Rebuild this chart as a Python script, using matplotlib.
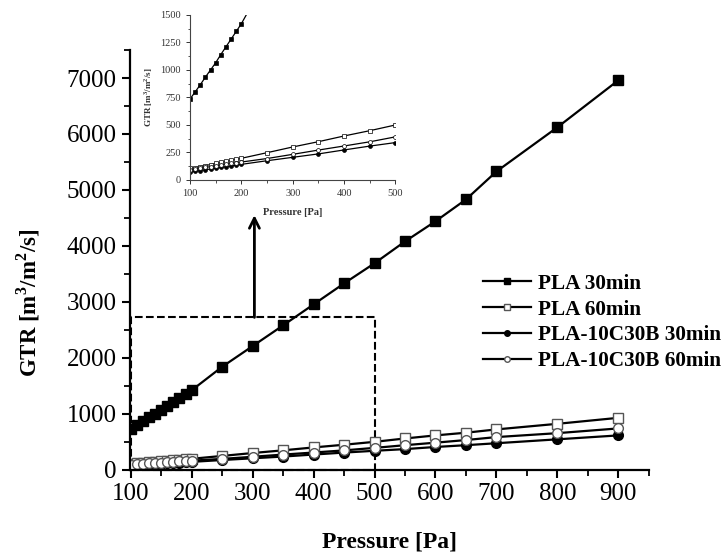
import matplotlib
matplotlib.use('Agg')
import matplotlib.pyplot as plt
from matplotlib.patches import Rectangle

plt.rcParams['font.family'] = ['Liberation Serif', 'DejaVu Serif']
plt.rcParams['mathtext.fontset'] = 'custom'
plt.rcParams['mathtext.rm'] = 'Liberation Serif'
plt.rcParams['mathtext.bf'] = 'Liberation Serif:bold'

# Pressure points [Pa]
pressure = [100, 110, 120, 130, 140, 150, 160, 170, 180, 190, 200,
            250, 300, 350, 400, 450, 500, 550, 600, 650, 700, 800, 900]

# GTR values [m3/m2/s]
pla_30 = [735, 800, 865, 935, 1000, 1065, 1140, 1210, 1280, 1350, 1420,
          1840, 2210, 2580, 2955, 3330, 3690, 4080, 4440, 4830, 5330, 6120, 6960]
pla_60 = [105, 113, 122, 131, 140, 150, 159, 168, 178, 188, 197,
          248, 300, 348, 400, 448, 500, 560, 615, 663, 722, 822, 929]
pla_c30b_30 = [72, 79, 86, 93, 100, 107, 114, 121, 128, 135, 142,
               175, 206, 237, 273, 308, 340, 370, 408, 440, 475, 545, 615]
pla_c30b_60 = [92, 99, 106, 114, 121, 128, 136, 143, 150, 157, 163,
               195, 233, 272, 309, 347, 392, 440, 485, 532, 585, 655, 740]

labels = ['PLA 30min', 'PLA 60min', 'PLA-10C30B 30min', 'PLA-10C30B 60min']
series = [pla_30, pla_60, pla_c30b_30, pla_c30b_60]
markers = ['s', 's', 'o', 'o']
faces = ['black', 'white', 'black', 'white']
edges = ['black', '#555555', 'black', '#555555']

# zoom box shown in the main plot
box_x = (100, 500)
box_top = 2723
arrow_x = 303
arrow_tip = 4550

fig = plt.figure(figsize=(7.24, 5.56), dpi=100)
ax = fig.add_axes([0.1796, 0.155, 0.7166, 0.755])

for y, lab, m, fc, ec in zip(series, labels, markers, faces, edges):
    ax.plot(pressure, y, color='black', lw=1.6, marker=m, markersize=7,
            markerfacecolor=fc, markeredgecolor=ec, markeredgewidth=1.0,
            label=lab)

ax.set_xlim(99, 950)
ax.set_ylim(0, 7500)
ax.set_xticks(range(100, 901, 100))
ax.set_xticks(range(150, 951, 100), minor=True)
ax.set_yticks(range(0, 7001, 1000))
ax.set_yticks(range(500, 7501, 1000), minor=True)
ax.spines['top'].set_visible(False)
ax.spines['right'].set_visible(False)
for s in ('left', 'bottom'):
    ax.spines[s].set_linewidth(1.6)
ax.tick_params(which='major', direction='out', length=6, width=1.5, labelsize=18)
ax.tick_params(which='minor', direction='out', length=4, width=1.3)
ax.set_xlabel('Pressure [Pa]', fontsize=17, fontweight='bold', labelpad=19)
ax.set_ylabel(r'GTR [m$^{\mathbf{3}}$/m$^{\mathbf{2}}$/s]', fontsize=16.5,
              fontweight='bold')
ax.yaxis.set_label_coords(-0.17, 0.397)

ax.add_patch(Rectangle((box_x[0], 0), box_x[1] - box_x[0], box_top, fill=False,
                       ls='--', lw=1.5, ec='black', clip_on=False, zorder=1))
ax.annotate('', xy=(arrow_x, arrow_tip), xytext=(arrow_x, box_top),
            arrowprops=dict(arrowstyle='->', lw=2, color='black',
                            mutation_scale=18, shrinkA=0, shrinkB=0))

leg = ax.legend(loc='upper left', bbox_to_anchor=(0.663, 0.487), frameon=False,
                prop={'weight': 'bold', 'size': 15.3}, handlelength=2.3,
                handletextpad=0.33, labelspacing=0.27, borderaxespad=0)
for h in leg.legend_handles:
    h.set_markersize(4)

# inset
axi = fig.add_axes([0.2624, 0.6763, 0.2838, 0.2968])
for y, m, fc in zip(series, markers, faces):
    axi.plot(pressure, y, color='black', lw=0.9, marker=m, markersize=2.8,
             markerfacecolor=fc, markeredgecolor='black', markeredgewidth=0.5)
axi.set_xlim(100, 500)
axi.set_ylim(0, 1500)
axi.set_xticks(range(100, 501, 100))
axi.set_xticks(range(150, 501, 100), minor=True)
axi.set_yticks(range(0, 1501, 250))
axi.set_yticks(range(125, 1501, 250), minor=True)
axi.spines['top'].set_visible(False)
axi.spines['right'].set_visible(False)
for s in ('left', 'bottom'):
    axi.spines[s].set_linewidth(0.8)
    axi.spines[s].set_color('#444444')
axi.tick_params(which='major', direction='out', length=3, width=0.7, labelsize=7.5,
                colors='#333333')
axi.tick_params(which='minor', direction='out', length=1.8, width=0.6, colors='#333333')
axi.set_xlabel('Pressure [Pa]', fontsize=7.5, fontweight='bold', labelpad=7,
               color='#333333')
axi.set_ylabel(r'GTR [m$^{\mathbf{3}}$/m$^{\mathbf{2}}$/s]', fontsize=6.5,
               fontweight='bold', labelpad=4, color='#333333')

fig.savefig('out.png', dpi=100)
